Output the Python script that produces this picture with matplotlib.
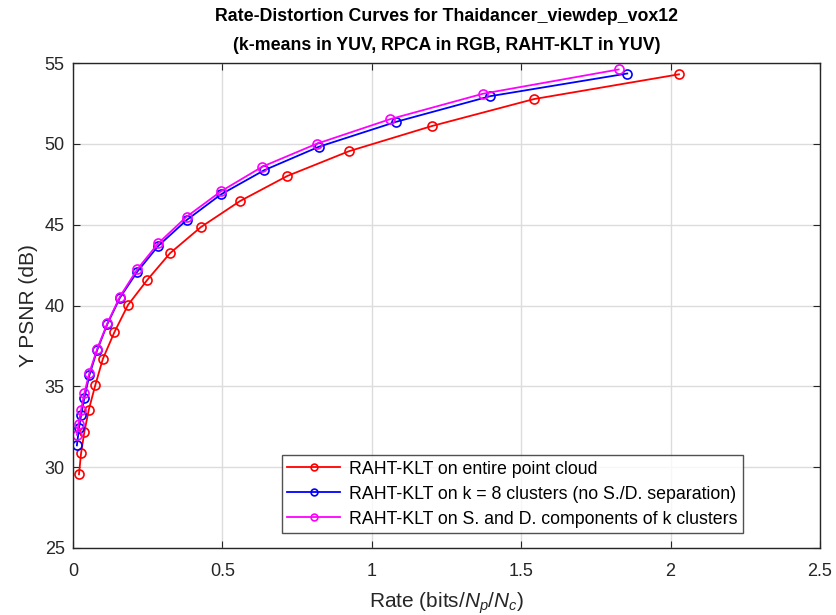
import matplotlib
matplotlib.use("Agg")
import matplotlib.pyplot as plt

plt.rcParams['font.family'] = ['Liberation Sans', 'DejaVu Sans']
plt.rcParams['mathtext.fontset'] = 'custom'
plt.rcParams['mathtext.rm'] = 'Liberation Sans'
plt.rcParams['mathtext.it'] = 'Liberation Sans:italic'

rate_full = [0.020, 0.027, 0.038, 0.053, 0.075, 0.100, 0.138, 0.184, 0.248, 0.325,
             0.428, 0.559, 0.717, 0.923, 1.201, 1.543, 2.028]
psnr_full = [29.56, 30.86, 32.18, 33.56, 35.10, 36.70, 38.33, 40.03, 41.57, 43.24,
             44.85, 46.46, 48.01, 49.54, 51.10, 52.77, 54.30]

rate_k8 = [0.013, 0.020, 0.027, 0.038, 0.055, 0.081, 0.115, 0.157, 0.215, 0.285,
           0.380, 0.495, 0.639, 0.823, 1.081, 1.397, 1.855]
psnr_k8 = [31.35, 32.40, 33.20, 34.28, 35.70, 37.25, 38.85, 40.48, 42.09, 43.68,
           45.28, 46.87, 48.36, 49.82, 51.36, 52.95, 54.35]

rate_sd = [0.013, 0.019, 0.027, 0.038, 0.055, 0.081, 0.115, 0.157, 0.215, 0.285,
           0.380, 0.495, 0.634, 0.815, 1.062, 1.372, 1.826]
psnr_sd = [32.00, 32.70, 33.55, 34.58, 35.85, 37.32, 38.90, 40.55, 42.24, 43.84,
           45.49, 47.06, 48.59, 50.00, 51.53, 53.10, 54.60]

labels = ['RAHT-KLT on entire point cloud',
          'RAHT-KLT on k = 8 clusters (no S./D. separation)',
          'RAHT-KLT on S. and D. components of k clusters']
colors = ['#ff0000', '#0000ff', '#ff00ff']

fig = plt.figure(figsize=(8.37, 6.15), dpi=100)
ax = fig.add_axes([73/837, 1 - 548/615, (820 - 73)/837, (548 - 63)/615])

for (r, p), lab, c in zip([(rate_full, psnr_full), (rate_k8, psnr_k8), (rate_sd, psnr_sd)], labels, colors):
    ax.plot(r, p, '-o', color=c, lw=1.3, ms=6.5, mfc='none', mew=1.2, label=lab)

ax.set_xlim(0, 2.5)
ax.set_ylim(25, 55)
ax.set_xticks([0, 0.5, 1, 1.5, 2, 2.5])
ax.set_xticklabels(['0', '0.5', '1', '1.5', '2', '2.5'])
ax.set_yticks([25, 30, 35, 40, 45, 50, 55])
ax.grid(True, color='#dcdcdc', lw=1.0)
ax.set_axisbelow(True)
ax.tick_params(direction='in', top=True, right=True, labelsize=13, colors='#262626', length=5)
ax.tick_params(axis='x', pad=11)
ax.tick_params(axis='y', pad=6)
for s in ax.spines.values():
    s.set_color('#262626')
    s.set_linewidth(1.0)

ax.set_xlabel('Rate (bits/$N_p$/$N_c$)', fontsize=15, color='#262626', labelpad=7)
ax.set_ylabel('Y PSNR (dB)', fontsize=15, color='#262626', labelpad=5)
ax.set_title('Rate-Distortion Curves for Thaidancer_viewdep_vox12\n(k-means in YUV, RPCA in RGB, RAHT-KLT in YUV)',
             fontsize=12.8, fontweight='bold', pad=9, linespacing=1.95)

leg = ax.legend(loc='lower right', bbox_to_anchor=(670/747, 15/485), bbox_transform=ax.transAxes,
                fontsize=12.8, frameon=True, fancybox=False, edgecolor='#262626',
                handlelength=3.0, markerscale=0.75, borderaxespad=0.0, labelspacing=0.45,
                handletextpad=0.5, borderpad=0.3)
leg.get_frame().set_linewidth(1.0)

fig.savefig('out.png', dpi=100)
